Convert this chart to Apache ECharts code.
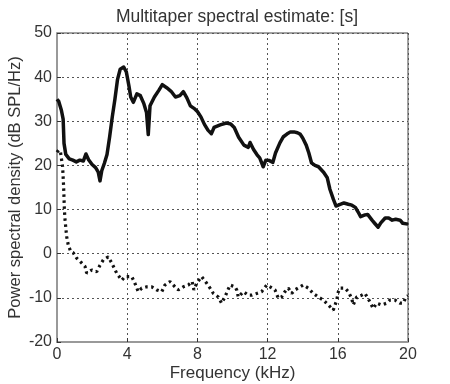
<!DOCTYPE html>
<html>
<head>
<meta charset="utf-8">
<title>Multitaper spectral estimate</title>
<script src="https://cdn.jsdelivr.net/npm/echarts@6/dist/echarts.min.js"></script>
<style>
  html, body { margin: 0; padding: 0; background: #fff; }
  #main { width: 450px; height: 384px; }
</style>
</head>
<body>
<div id="main"></div>
<script>
// tick labels
var xTicks = [0, 4, 8, 12, 16, 20];
var yTicks = [-20, -10, 0, 10, 20, 30, 40, 50];

// solid curve: [frequency kHz, dB]
var solidFreq = [0, 0.1, 0.25, 0.35, 0.4, 0.5, 0.7, 0.9, 1.1, 1.3, 1.5, 1.65, 1.8, 2.0, 2.2, 2.35, 2.45, 2.55, 2.7, 2.85,
  3.0, 3.15, 3.3, 3.45, 3.6, 3.8, 3.95, 4.1, 4.2, 4.35, 4.55, 4.75, 4.95, 5.1, 5.2, 5.3, 5.55, 5.8, 6.0, 6.25,
  6.5, 6.75, 7.0, 7.2, 7.4, 7.6, 7.85, 8.0, 8.2, 8.4, 8.6, 8.8, 8.95, 9.3, 9.65, 9.9, 10.1, 10.35, 10.65, 10.9,
  11.0, 11.2, 11.4, 11.55, 11.75, 11.9, 12.1, 12.3, 12.45, 12.7, 12.9, 13.1, 13.3, 13.5, 13.7, 13.85, 14.0, 14.2, 14.35, 14.5,
  14.7, 14.9, 15.2, 15.4, 15.55, 15.75, 15.9, 16.1, 16.35, 16.6, 16.8, 17.0, 17.15, 17.3, 17.55, 17.7, 17.95, 18.1, 18.3, 18.45,
  18.7, 18.9, 19.1, 19.3, 19.55, 19.7, 20];
var solidDb = [35, 34.5, 32.5, 30.5, 25, 22.5, 21.5, 21.2, 20.8, 21.2, 21, 22.6, 21.3, 20.2, 19.5, 18.5, 16.5, 18.8, 20.5, 22.5,
  26.5, 31, 35, 39.5, 41.8, 42.3, 41.2, 38, 35.5, 34.3, 36.2, 35.8, 34, 32, 27, 33.5, 35.5, 37, 38.3, 37.6,
  36.8, 35.5, 35.8, 36.7, 35.3, 33.5, 32.8, 32.2, 31, 29.3, 28, 27.2, 28.6, 29.2, 29.6, 29.4, 28.6, 26.4, 24.6, 24.1,
  25.2, 23.6, 22.4, 21.7, 19.7, 21.2, 21.1, 20.7, 22.8, 25.1, 26.5, 27.1, 27.6, 27.6, 27.4, 27.1, 26.2, 24.6, 22.8, 20.6,
  20, 19.7, 18.4, 17.2, 14.6, 12.3, 10.8, 11.1, 11.5, 11.2, 11, 10.5, 9.5, 8.4, 8.8, 8.9, 7.6, 6.9, 6, 7,
  8.1, 8.1, 7.6, 7.8, 7.6, 6.9, 6.7];

// dotted curve
var dotFreq = [0, 0.1, 0.2, 0.32, 0.38, 0.42, 0.46, 0.55, 0.64, 0.78, 0.93, 1.12, 1.41, 1.6, 1.69, 1.98, 2.26, 2.45, 2.64, 2.92,
  3.12, 3.4, 3.69, 3.87, 4.06, 4.26, 4.44, 4.63, 4.83, 5.11, 5.4, 5.68, 5.97, 6.15, 6.44, 6.72, 6.91, 7.2, 7.48, 7.7,
  7.8, 7.96, 8.24, 8.53, 8.72, 8.91, 9.19, 9.38, 9.57, 9.86, 9.95, 10.14, 10.24, 10.33, 10.62, 10.9, 11.09, 11.38, 11.66, 11.95,
  12.14, 12.42, 12.61, 12.8, 12.99, 13.18, 13.37, 13.56, 14.03, 14.32, 14.6, 14.89, 15.17, 15.46, 15.74, 15.94, 16.03, 16.13, 16.41, 16.6,
  16.79, 16.88, 17.08, 17.36, 17.55, 17.83, 18.02, 18.22, 18.5, 18.79, 18.97, 19.26, 19.54, 19.73, 19.89, 20];
var dotDb = [23, 23.5, 23, 19.7, 15, 10, 7.6, 3.9, 2, 0.5, 0.2, -1, -2.1, -2.9, -4.4, -3.7, -4.1, -2.6, -1.4, -0.7,
  -2.1, -4.4, -6, -5.2, -5.2, -5.2, -6.7, -8.6, -7.8, -7.5, -7.5, -8.2, -8.6, -7.1, -6.3, -7.5, -8.2, -7.5, -7.1, -6.3,
  -8.2, -6.7, -5.2, -6.7, -7.8, -9, -9.8, -11.2, -9.8, -7.1, -6.7, -7.5, -8.2, -9.8, -8.6, -9.4, -9.4, -9, -8.6, -7.1,
  -7.5, -8.2, -10.1, -9.8, -8.6, -7.8, -9, -8.2, -7.1, -7.8, -9, -9.8, -10.5, -11.6, -12.8, -10.5, -8.6, -7.8, -7.8, -8.6,
  -10.1, -11.6, -9.8, -9.4, -9, -10.9, -12.4, -11.2, -11.6, -11.2, -10.5, -10.5, -11.2, -11.2, -9.8, -9.5];

function pairs(xs, ys) {
  return xs.map(function (x, i) { return [x, ys[i]]; });
}

var chart = echarts.init(document.getElementById('main'));
var font = 'Liberation Sans, Arial, sans-serif';

chart.setOption({
  animation: false,
  title: {
    text: 'Multitaper spectral estimate: [s]',
    left: 232, top: 3, textAlign: 'center',
    textStyle: { fontFamily: font, fontSize: 17.5, fontWeight: 'normal', color: '#333' }
  },
  grid: {
    left: 57, right: 42, top: 33, bottom: 42,
    outerBoundsMode: 'none', containLabel: false,
    show: true, borderColor: '#444', borderWidth: 1, backgroundColor: '#fff'
  },
  xAxis: {
    type: 'value', min: 0, max: 20, interval: 4,
    name: 'Frequency (kHz)', nameLocation: 'middle', nameGap: 23, nameMoveOverlap: false,
    nameTextStyle: { fontFamily: font, fontSize: 17, color: '#333' },
    axisLine: { show: true, onZero: false, lineStyle: { color: '#999', width: 2 } },
    axisTick: { show: true, inside: true, length: 4, lineStyle: { color: '#333' } },
    axisLabel: {
      fontFamily: font, fontSize: 16, color: '#333', margin: 5,
      formatter: function (v) { return xTicks.indexOf(v) >= 0 ? String(v) : ''; }
    },
    splitLine: { show: true, lineStyle: { color: '#555', type: [2, 3], width: 1 } }
  },
  yAxis: {
    type: 'value', min: -20, max: 50, interval: 10,
    name: 'Power spectral density (dB SPL/Hz)', nameLocation: 'middle', nameGap: 33, nameMoveOverlap: false,
    nameTextStyle: { fontFamily: font, fontSize: 16.5, color: '#333' },
    axisLine: { show: true, lineStyle: { color: '#999', width: 2 } },
    axisTick: { show: true, inside: true, length: 4, lineStyle: { color: '#333' } },
    axisLabel: {
      fontFamily: font, fontSize: 16, color: '#333', margin: 5,
      formatter: function (v) { return yTicks.indexOf(v) >= 0 ? String(v) : ''; }
    },
    splitLine: { show: true, lineStyle: { color: '#555', type: [2, 3], width: 1 } }
  },
  series: [
    {
      name: 'solid', type: 'line', data: pairs(solidFreq, solidDb),
      symbol: 'none', smooth: false,
      lineStyle: { color: '#111', width: 3.5, join: 'round' }
    },
    {
      name: 'dotted', type: 'line', data: pairs(dotFreq, dotDb),
      symbol: 'none', smooth: false,
      lineStyle: { color: '#111', width: 3.2, type: [2.5, 3.5], cap: 'butt' }
    }
  ]
});
</script>
</body>
</html>
